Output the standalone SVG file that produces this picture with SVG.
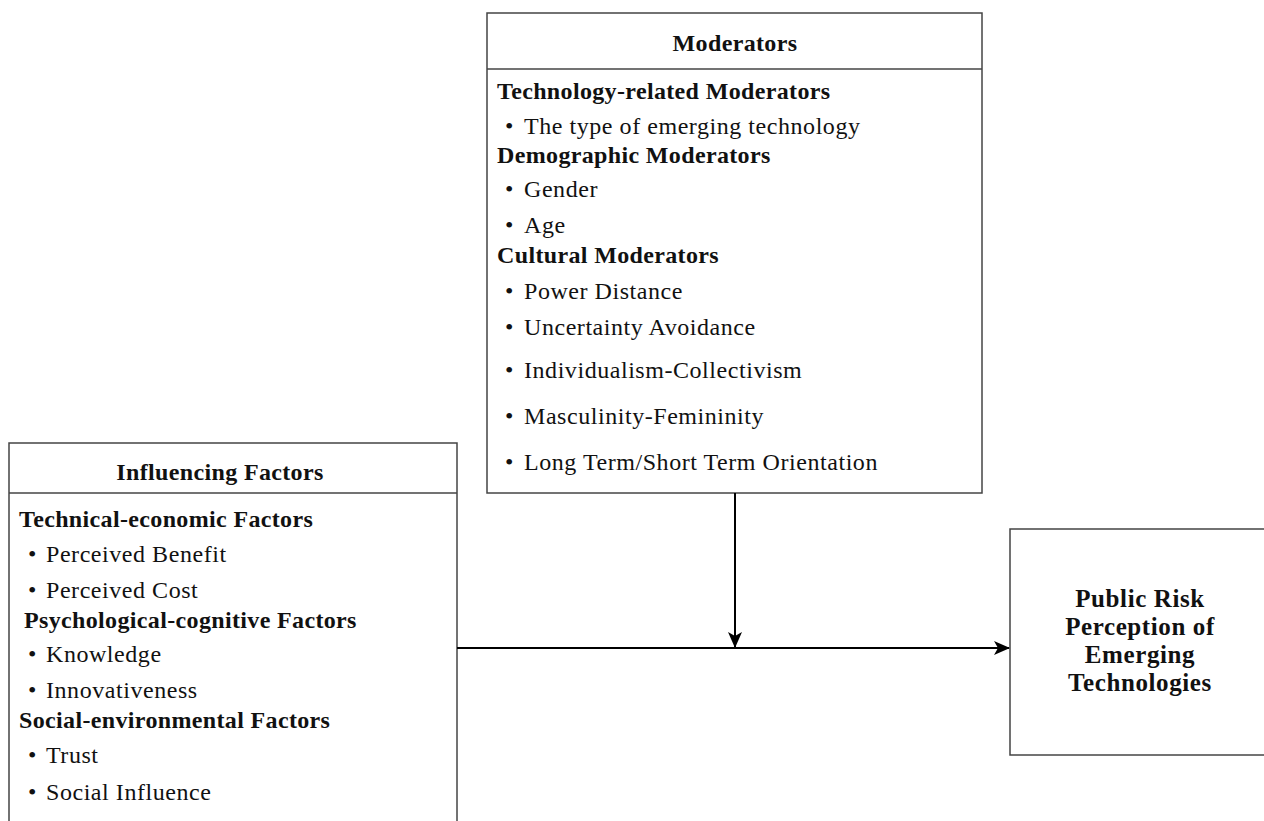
<svg xmlns="http://www.w3.org/2000/svg" width="1264" height="821" viewBox="0 0 1264 821">
<style>
.box{fill:#fff;stroke:#444;stroke-width:1.5}
.t{font-family:"Liberation Serif",serif;font-size:24px;letter-spacing:0.55px;fill:#111}
.b{font-family:"Liberation Serif",serif;font-size:24px;letter-spacing:0.35px;font-weight:bold;fill:#111}
.o{font-size:25px;letter-spacing:0.6px}
.c{text-anchor:middle}
.con{stroke:#000;stroke-width:2;fill:none}
</style>
<defs>
<marker id="ah" markerWidth="16" markerHeight="14" refX="15" refY="7" orient="auto" markerUnits="userSpaceOnUse">
<path d="M0,0 L16,7 L0,14 L4,7 Z" fill="#000"/>
</marker>
</defs>
<g id="moderators">
<rect class="box" x="487" y="13" width="495" height="480"/>
<line class="box" x1="487" y1="69" x2="982" y2="69"/>
<text class="b c" x="735" y="51">Moderators</text>
<text class="b" x="497" y="99">Technology-related Moderators</text>
<text class="t" x="505" y="134">•</text><text class="t" x="524" y="134">The type of emerging technology</text>
<text class="b" x="497" y="163">Demographic Moderators</text>
<text class="t" x="505" y="197">•</text><text class="t" x="524" y="197">Gender</text>
<text class="t" x="505" y="233">•</text><text class="t" x="524" y="233">Age</text>
<text class="b" x="497" y="263">Cultural Moderators</text>
<text class="t" x="505" y="299">•</text><text class="t" x="524" y="299">Power Distance</text>
<text class="t" x="505" y="335">•</text><text class="t" x="524" y="335">Uncertainty Avoidance</text>
<text class="t" x="505" y="378">•</text><text class="t" x="524" y="378">Individualism-Collectivism</text>
<text class="t" x="505" y="424">•</text><text class="t" x="524" y="424">Masculinity-Femininity</text>
<text class="t" x="505" y="470">•</text><text class="t" x="524" y="470">Long Term/Short Term Orientation</text>
</g>
<g id="influencing">
<rect class="box" x="9" y="443" width="448" height="400"/>
<line class="box" x1="9" y1="493" x2="457" y2="493"/>
<text class="b c" x="220" y="480">Influencing Factors</text>
<text class="b" x="19" y="527">Technical-economic Factors</text>
<text class="t" x="28" y="562">•</text><text class="t" x="46" y="562">Perceived Benefit</text>
<text class="t" x="28" y="598">•</text><text class="t" x="46" y="598">Perceived Cost</text>
<text class="b" x="24" y="628">Psychological-cognitive Factors</text>
<text class="t" x="28" y="662">•</text><text class="t" x="46" y="662">Knowledge</text>
<text class="t" x="28" y="698">•</text><text class="t" x="46" y="698">Innovativeness</text>
<text class="b" x="19" y="728">Social-environmental Factors</text>
<text class="t" x="28" y="763">•</text><text class="t" x="46" y="763">Trust</text>
<text class="t" x="28" y="800">•</text><text class="t" x="46" y="800">Social Influence</text>
</g>
<g id="outcome">
<rect class="box" x="1010" y="529" width="270" height="226"/>
<text class="b o c" x="1140" y="607">Public Risk</text>
<text class="b o c" x="1140" y="635">Perception of</text>
<text class="b o c" x="1140" y="663">Emerging</text>
<text class="b o c" x="1140" y="691">Technologies</text>
</g>
<g id="connectors">
<line class="con" x1="457" y1="648" x2="1009" y2="648" marker-end="url(#ah)"/>
<line class="con" x1="735" y1="493" x2="735" y2="647" marker-end="url(#ah)"/>
</g>
</svg>
